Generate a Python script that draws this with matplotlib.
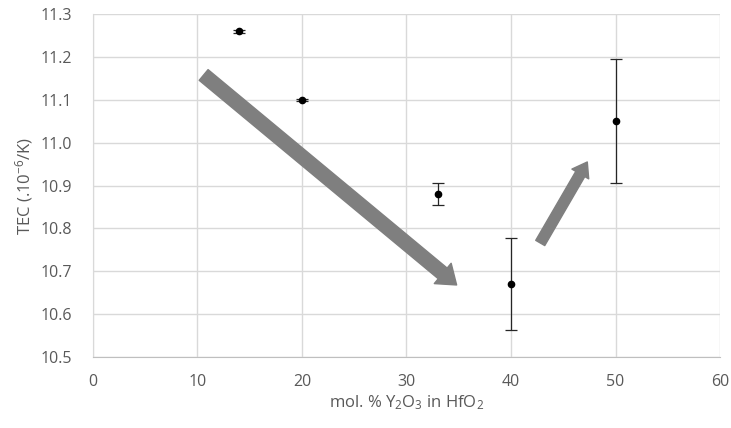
import matplotlib.pyplot as plt
from matplotlib.patches import FancyArrowPatch

# measured TEC vs Y2O3 content
mol_pct = [14, 20, 33, 40, 50]
tec = [11.26, 11.10, 10.88, 10.67, 11.05]
tec_err = [0.004, 0.003, 0.026, 0.108, 0.145]

# trend arrows (tail, head) in data coords
arrow_down = [(10.6, 11.158), (34.8, 10.668)]
arrow_up = [(42.8, 10.766), (47.3, 10.955)]

plt.rcParams['font.family'] = ['Open Sans', 'DejaVu Sans']
txt = '#595959'

fig = plt.figure(figsize=(7.31, 4.28), dpi=100)
ax = fig.add_axes([0.127, 0.166, 0.858, 0.801])

ax.errorbar(mol_pct, tec, yerr=tec_err, fmt='o', color='black', markersize=4.5,
            ecolor='#262626', elinewidth=0.9, capsize=4, capthick=0.9, zorder=3)

for (p0, p1), w, hw, hl in [(arrow_down, 10, 19, 13), (arrow_up, 7.5, 14, 10)]:
    arr = FancyArrowPatch(p0, p1, arrowstyle='simple,head_width=%s,head_length=%s,tail_width=%s' % (hw, hl, w),
                          color='#7f7f7f', mutation_scale=1, shrinkA=0, shrinkB=0, zorder=2)
    ax.add_patch(arr)

ax.set_xlim(0, 60)
ax.set_ylim(10.5, 11.3)
ax.set_xticks(range(0, 61, 10))
ax.set_yticks([10.5 + 0.1 * i for i in range(9)])
ax.set_yticklabels(['%.1f' % (10.5 + 0.1 * i) for i in range(9)])
ax.grid(True, color='#d9d9d9', linewidth=1)
ax.set_axisbelow(True)
for s in ax.spines.values():
    s.set_visible(False)
ax.spines['bottom'].set_visible(True)
ax.spines['bottom'].set_color('#bfbfbf')
ax.spines['left'].set_visible(True)
ax.spines['left'].set_color('#d9d9d9')
ax.tick_params(length=0, labelsize=11.5, colors=txt)
ax.tick_params(axis='y', pad=15)
ax.tick_params(axis='x', pad=12)

ax.set_xlabel(r'mol. % Y$\mathregular{_2}$O$\mathregular{_3}$ in HfO$\mathregular{_2}$',
              fontsize=12, color=txt, labelpad=3)
ax.set_ylabel(r'TEC (.10$\mathregular{^{-6}}$/K)', fontsize=12, color=txt, labelpad=4)

fig.savefig('out.png', dpi=100)
